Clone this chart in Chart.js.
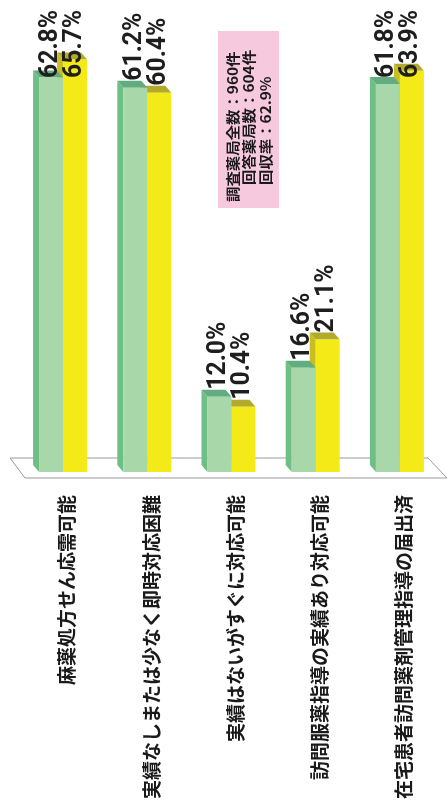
<!DOCTYPE html>
<html>
<head>
<meta charset="utf-8">
<script src="https://cdn.jsdelivr.net/npm/chart.js@4/dist/chart.umd.min.js"></script>
<style>
  html, body { margin: 0; padding: 0; background: #ffffff; }
  #wrap { position: relative; width: 448px; height: 807px; }
</style>
</head>
<body>
<div id="wrap"><canvas id="chart" width="448" height="807"></canvas></div>
<script>
// categories along the bottom (drawn rotated)
const categories = [
  "麻薬処方せん応需可能",
  "実績なしまたは少なく即時対応困難",
  "実績はないがすぐに対応可能",
  "訪問服薬指導の実績あり対応可能",
  "在宅患者訪問薬剤管理指導の届出済"
];

// percentages for the two survey rounds (green, yellow)
const prevValues = [62.8, 61.2, 12.0, 16.6, 61.8];
const currValues = [65.7, 60.4, 10.4, 21.1, 63.9];

// survey notes shown in the pink box
const noteLines = [
  "調査薬局全数：960件",
  "回答薬局数：604件",
  "回収率：62.9%"
];

// colours: front face, side face, top face
const greenColors = ["#a8d8a9", "#6dbf85", "#62ad7f"];
const yellowColors = ["#f4ea17", "#c8be22", "#b2aa2c"];

// depth of the fake 3d extrusion
const depthX = -6;
const depthY = -7;

function poly(ctx, pts, fill) {
  ctx.beginPath();
  ctx.moveTo(pts[0][0], pts[0][1]);
  for (let i = 1; i < pts.length; i++) ctx.lineTo(pts[i][0], pts[i][1]);
  ctx.closePath();
  ctx.fillStyle = fill;
  ctx.fill();
}

// side and top faces of one bar
function drawExtrusion(ctx, bar, colors) {
  let L = bar.x - bar.width / 2;
  let R = bar.x + bar.width / 2;
  let T = bar.y;
  let B = bar.base;
  poly(ctx, [[L, T], [L + depthX, T + depthY], [L + depthX, B + depthY], [L, B]], colors[1]);
  poly(ctx, [[L, T], [L + depthX, T + depthY], [R + depthX, T + depthY], [R, T]], colors[2]);
}

const barsPlugin = {
  id: 'bars3d',
  beforeDatasetsDraw(chart) {
    let ctx = chart.ctx;
    let a = chart.chartArea;
    ctx.save();
    // floor
    ctx.beginPath();
    ctx.moveTo(a.left - 11, a.bottom - 14);
    ctx.lineTo(a.right - 14, a.bottom - 14);
    ctx.lineTo(a.right + 5, a.bottom + 6);
    ctx.lineTo(a.left + 4, a.bottom + 6);
    ctx.closePath();
    ctx.fillStyle = '#ffffff';
    ctx.fill();
    ctx.strokeStyle = '#9a9a9a';
    ctx.lineWidth = 1;
    ctx.stroke();

    let greenBars = chart.getDatasetMeta(0).data;
    let yellowBars = chart.getDatasetMeta(1).data;
    for (let i = 0; i < greenBars.length; i++) {
      drawExtrusion(ctx, yellowBars[i], yellowColors);
      drawExtrusion(ctx, greenBars[i], greenColors);
    }
    ctx.restore();
  },
  afterDatasetsDraw(chart) {
    let ctx = chart.ctx;
    ctx.save();
    ctx.font = 'bold 26px Roboto';
    ctx.fillStyle = '#1e1e1e';
    ctx.textAlign = 'left';
    ctx.textBaseline = 'middle';
    chart.data.datasets.forEach((ds, d) => {
      chart.getDatasetMeta(d).data.forEach((bar, i) => {
        let text = ds.data[i].toFixed(1) + '%';
        let w = ctx.measureText(text).width * 0.95;
        // keep the label inside the canvas when the bar is tall
        let start = Math.max(bar.y + depthY, 10 + w);
        ctx.save();
        ctx.translate(bar.x - 1, start);
        ctx.rotate(-Math.PI / 2);
        ctx.scale(0.95, 1);
        ctx.fillText(text, 0, 0);
        ctx.restore();
      });
    });

    // pink note box
    ctx.fillStyle = '#f6c9df';
    ctx.fillRect(218, 31, 61, 177);
    ctx.fillStyle = '#1a1a1a';
    ctx.font = 'bold 14px "Noto Sans CJK JP"';
    let xs = [233, 249, 266];
    let starts = [202, 185, 185];
    noteLines.forEach((line, i) => {
      ctx.save();
      ctx.translate(xs[i], starts[i]);
      ctx.rotate(-Math.PI / 2);
      ctx.scale(1.1, 1);
      ctx.fillText(line, 0, 0);
      ctx.restore();
    });
    ctx.restore();
  }
};

new Chart(document.getElementById('chart'), {
  type: 'bar',
  data: {
    labels: categories,
    datasets: [
      {
        data: prevValues,
        backgroundColor: greenColors[0],
        borderWidth: 0,
        categoryPercentage: 0.57,
        barPercentage: 1.0
      },
      {
        data: currValues,
        backgroundColor: yellowColors[0],
        borderWidth: 0,
        categoryPercentage: 0.57,
        barPercentage: 1.0
      }
    ]
  },
  options: {
    responsive: false,
    animation: false,
    layout: { padding: { left: 21, right: 6, top: 1, bottom: 0 } },
    plugins: {
      legend: { display: false },
      tooltip: { enabled: false }
    },
    scales: {
      x: {
        grid: { display: false, drawTicks: false },
        border: { display: false },
        ticks: {
          autoSkip: false,
          minRotation: 90,
          maxRotation: 90,
          padding: 23,
          labelOffset: 4,
          color: '#1a1a1a',
          font: { family: '"Noto Sans CJK JP"', size: 19, weight: 'bold' }
        },
        afterFit: function (scale) { scale.height = 335; }
      },
      y: { display: false, min: 0, max: 75 }
    }
  },
  plugins: [barsPlugin]
});
</script>
</body>
</html>
